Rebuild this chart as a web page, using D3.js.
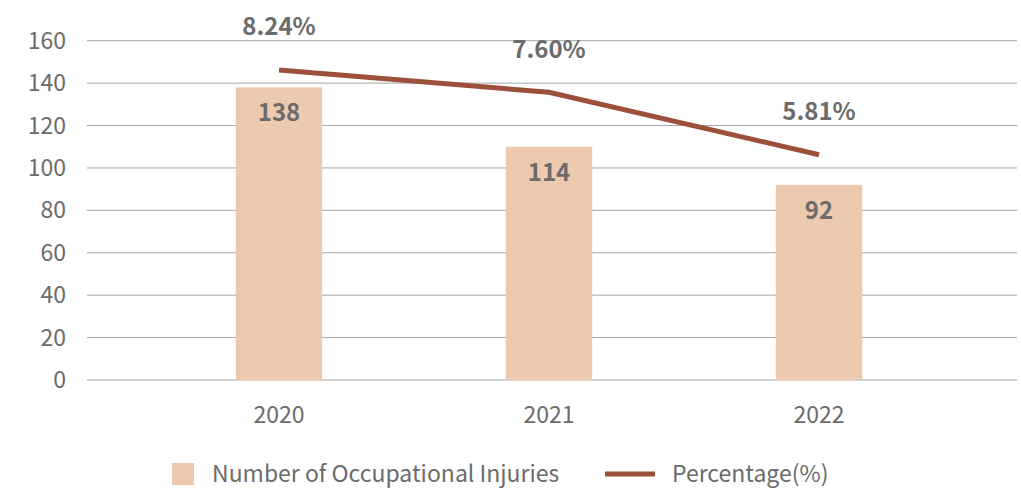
<!DOCTYPE html>
<html>
<head>
<meta charset="utf-8">
<script src="https://cdn.jsdelivr.net/npm/d3@7"></script>
<style>
  body { margin: 0; background: #ffffff; }
  text { font-family: "Noto Sans CJK TC", "Noto Sans", sans-serif; }
</style>
</head>
<body>
<div id="chart"></div>
<script>
// data
const years = ["2020", "2021", "2022"];
// bar heights as drawn in the picture, and the labels printed on them
const injuries = [138, 110, 92];
const injuryLabels = ["138", "114", "92"];
const percentages = [8.24, 7.60, 5.81];
const yTicks = [0, 20, 40, 60, 80, 100, 120, 140, 160];

const width = 1021, height = 490;
const colorBar = "#edc9b0";
const colorLine = "#9c4f3b";
const colorText = "#6b6b6b";
const colorGrid = "#a6a6a6";

const svg = d3.select("#chart").append("svg")
    .attr("width", width)
    .attr("height", height);

svg.append("rect").attr("width", "100%").attr("height", "100%").attr("fill", "#fff");

// scales
const x = d3.scaleBand()
    .domain(years)
    .range([144, 954])
    .paddingInner(0.68)
    .paddingOuter(0.34);

const y = d3.scaleLinear()
    .domain([0, 160])
    .range([380, 40.7]);

// secondary (hidden) axis for the line
const y2 = d3.scaleLinear()
    .domain([-0.65, 9.08])
    .range([380, 40.7]);

// gridlines
svg.append("g")
    .selectAll("line")
    .data(yTicks)
    .enter()
    .append("line")
    .attr("x1", 87)
    .attr("x2", 1017)
    .attr("y1", d => y(d))
    .attr("y2", d => y(d))
    .attr("stroke", colorGrid)
    .attr("stroke-width", 1);

// y tick labels
svg.append("g")
    .selectAll("text")
    .data(yTicks)
    .enter()
    .append("text")
    .attr("x", 66)
    .attr("y", d => y(d))
    .attr("dy", "0.35em")
    .attr("text-anchor", "end")
    .attr("font-size", "23px")
    .attr("fill", colorText)
    .text(d => d);

// bars
svg.append("g")
    .selectAll("rect")
    .data(injuries)
    .enter()
    .append("rect")
    .attr("x", (d, i) => x(years[i]))
    .attr("width", x.bandwidth())
    .attr("y", d => y(d))
    .attr("height", d => y(0) - y(d))
    .attr("fill", colorBar);

// bar labels
svg.append("g")
    .selectAll("text")
    .data(injuries)
    .enter()
    .append("text")
    .attr("x", (d, i) => x(years[i]) + x.bandwidth() / 2)
    .attr("y", d => y(d) + 34)
    .attr("text-anchor", "middle")
    .attr("font-size", "24px")
    .attr("font-weight", "bold")
    .attr("fill", colorText)
    .text((d, i) => injuryLabels[i]);

// x labels
svg.append("g")
    .selectAll("text")
    .data(years)
    .enter()
    .append("text")
    .attr("x", d => x(d) + x.bandwidth() / 2)
    .attr("y", 415)
    .attr("dy", "0.35em")
    .attr("text-anchor", "middle")
    .attr("font-size", "23px")
    .attr("fill", colorText)
    .text(d => d);

// line
const line = d3.line()
    .x((d, i) => x(years[i]) + x.bandwidth() / 2)
    .y(d => y2(d));

svg.append("path")
    .datum(percentages)
    .attr("d", line)
    .attr("fill", "none")
    .attr("stroke", colorLine)
    .attr("stroke-width", 5);

// line labels
svg.append("g")
    .selectAll("text")
    .data(percentages)
    .enter()
    .append("text")
    .attr("x", (d, i) => x(years[i]) + x.bandwidth() / 2)
    .attr("y", d => y2(d) - 43)
    .attr("dy", "0.35em")
    .attr("text-anchor", "middle")
    .attr("font-size", "24px")
    .attr("font-weight", "bold")
    .attr("fill", colorText)
    .text(d => d.toFixed(2) + "%");

// legend
const legend = svg.append("g").attr("transform", "translate(0,474)");

legend.append("rect")
    .attr("x", 172)
    .attr("y", -11)
    .attr("width", 22)
    .attr("height", 22)
    .attr("fill", colorBar);

legend.append("text")
    .attr("x", 212)
    .attr("dy", "0.35em")
    .attr("font-size", "23px")
    .attr("fill", colorText)
    .text("Number of Occupational Injuries");

legend.append("line")
    .attr("x1", 605)
    .attr("x2", 655)
    .attr("stroke", colorLine)
    .attr("stroke-width", 5);

legend.append("text")
    .attr("x", 672)
    .attr("dy", "0.35em")
    .attr("font-size", "23px")
    .attr("fill", colorText)
    .text("Percentage(%)");
</script>
</body>
</html>
